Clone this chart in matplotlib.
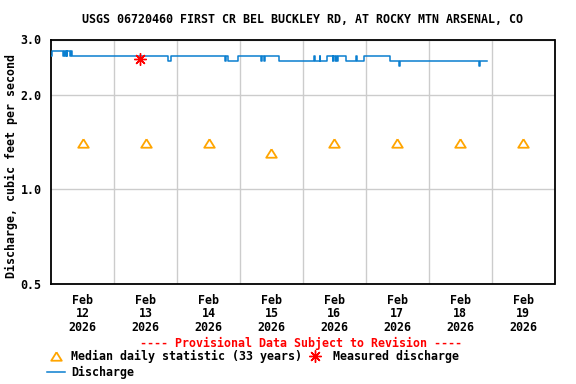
import matplotlib
matplotlib.use("Agg")
import matplotlib.pyplot as plt
from matplotlib.ticker import FixedLocator, NullLocator

# ---- data ----
# discharge record: hours since Feb 12 2026 00:00 and value (cfs), step changes
q_hours = [0.0, 0.25, 4.65, 4.95, 5.33, 5.6, 5.98, 6.17, 7.12, 7.39, 8.08,
           44.46, 45.49, 66.1, 66.5, 67.35, 71.16, 80.0, 80.4, 81.03, 81.4,
           86.74, 100.34, 100.65, 102.4, 102.7, 105.1, 107.3, 107.6, 108.1,
           108.5, 109.0, 109.4, 112.38, 116.1, 116.66, 119.39, 129.3, 132.5,
           132.9, 163.2, 163.7, 166.1]
q_values = [2.66, 2.76, 2.66, 2.76, 2.66, 2.76, 2.66, 2.76, 2.66, 2.76, 2.66,
            2.56, 2.66, 2.56, 2.66, 2.56, 2.66, 2.56, 2.66, 2.56, 2.66,
            2.56, 2.66, 2.56, 2.66, 2.56, 2.66, 2.56, 2.66, 2.56,
            2.66, 2.56, 2.66, 2.56, 2.66, 2.56, 2.66, 2.56, 2.47,
            2.56, 2.47, 2.56, 2.56]

median_hours = [12, 36, 60, 84, 108, 132, 156, 180]
median_values = [1.41, 1.41, 1.41, 1.31, 1.41, 1.41, 1.41, 1.41]

measured_hours = [33.9]
measured_values = [2.60]

day_labels = ["Feb\n12\n2026", "Feb\n13\n2026", "Feb\n14\n2026", "Feb\n15\n2026",
              "Feb\n16\n2026", "Feb\n17\n2026", "Feb\n18\n2026", "Feb\n19\n2026"]
y_ticks = [0.5, 1.0, 2.0, 3.0]
y_tick_labels = ["0.5", "1.0", "2.0", "3.0"]

title = "USGS 06720460 FIRST CR BEL BUCKLEY RD, AT ROCKY MTN ARSENAL, CO"
ylabel = "Discharge, cubic feet per second"

# ---- style ----
FONT = "DejaVu Sans Mono"
FS = 8.4
BLUE = "#0a7fd0"
ORANGE = "#ffa500"
RED = "#ff0000"
GRID = "#cccccc"
TRI = [(0, 1), (-1.25, -1), (1.25, -1), (0, 1)]
STAR = (8, 2, 0)

W, H = 576, 384
fig = plt.figure(figsize=(W / 100, H / 100), dpi=100)
L, R, T, B = 51.3, 554.5, 39.5, 284.0
ax = fig.add_axes([L / W, 1 - B / H, (R - L) / W, (B - T) / H])

ax.plot(q_hours, q_values, drawstyle="steps-post", color=BLUE, lw=1.1, zorder=3)
ax.plot(median_hours, median_values, linestyle="none", marker=TRI, ms=7.6,
        mfc="none", mec=ORANGE, mew=1.3, zorder=4)
ax.plot(measured_hours, measured_values, linestyle="none", marker=STAR,
        ms=8.8, color=RED, mew=1.0, zorder=5)

ax.set_yscale("log")
ax.set_ylim(0.5, 3.0)
ax.set_xlim(0, 192)
ax.yaxis.set_major_locator(FixedLocator(y_ticks))
ax.yaxis.set_minor_locator(NullLocator())
ax.set_yticklabels(y_tick_labels)
ax.set_xticks(median_hours)
ax.set_xticklabels(day_labels, linespacing=1.05)
ax.xaxis.set_minor_locator(FixedLocator([24 * k for k in range(1, 8)]))
ax.grid(True, which="minor", axis="x", color=GRID, lw=1.0)
ax.grid(True, which="major", axis="y", color=GRID, lw=1.0)
ax.set_axisbelow(True)
ax.tick_params(axis="both", which="both", length=0)
ax.tick_params(axis="x", pad=7)
ax.tick_params(axis="y", pad=7)
for lab in ax.get_xticklabels() + ax.get_yticklabels():
    lab.set_fontfamily(FONT)
    lab.set_fontweight("bold")
    lab.set_fontsize(FS)
for s in ax.spines.values():
    s.set_linewidth(1.3)
    s.set_color("black")

fig.text(303 / W, 1 - 19.5 / H, title, ha="center", va="center",
         family=FONT, weight="bold", fontsize=FS)
fig.text(11 / W, 1 - 166 / H, ylabel, ha="center", va="center", rotation=90,
         family=FONT, weight="bold", fontsize=FS)
fig.text(301 / W, 1 - 343 / H, "---- Provisional Data Subject to Revision ----",
         ha="center", va="center", family=FONT, weight="bold", fontsize=FS,
         color=RED)

# legend (manual, in pixel coordinates of an overlay)
lg = fig.add_axes([0, 0, 1, 1])
lg.set_xlim(0, W)
lg.set_ylim(H, 0)
lg.axis("off")
lg.patch.set_alpha(0)
lg.plot([56], [356], linestyle="none", marker=TRI, ms=7.6, mfc="none",
        mec=ORANGE, mew=1.3)
lg.text(71, 356, "Median daily statistic (33 years)", va="center",
        family=FONT, weight="bold", fontsize=FS)
lg.plot([315], [356], linestyle="none", marker=STAR, ms=8.8, color=RED,
        mew=1.0)
lg.text(333, 356, "Measured discharge", va="center", family=FONT,
        weight="bold", fontsize=FS)
lg.plot([47, 65], [372, 372], color=BLUE, lw=1.1)
lg.text(71, 372, "Discharge", va="center", family=FONT, weight="bold",
        fontsize=FS)

fig.savefig("out.png", dpi=100)
